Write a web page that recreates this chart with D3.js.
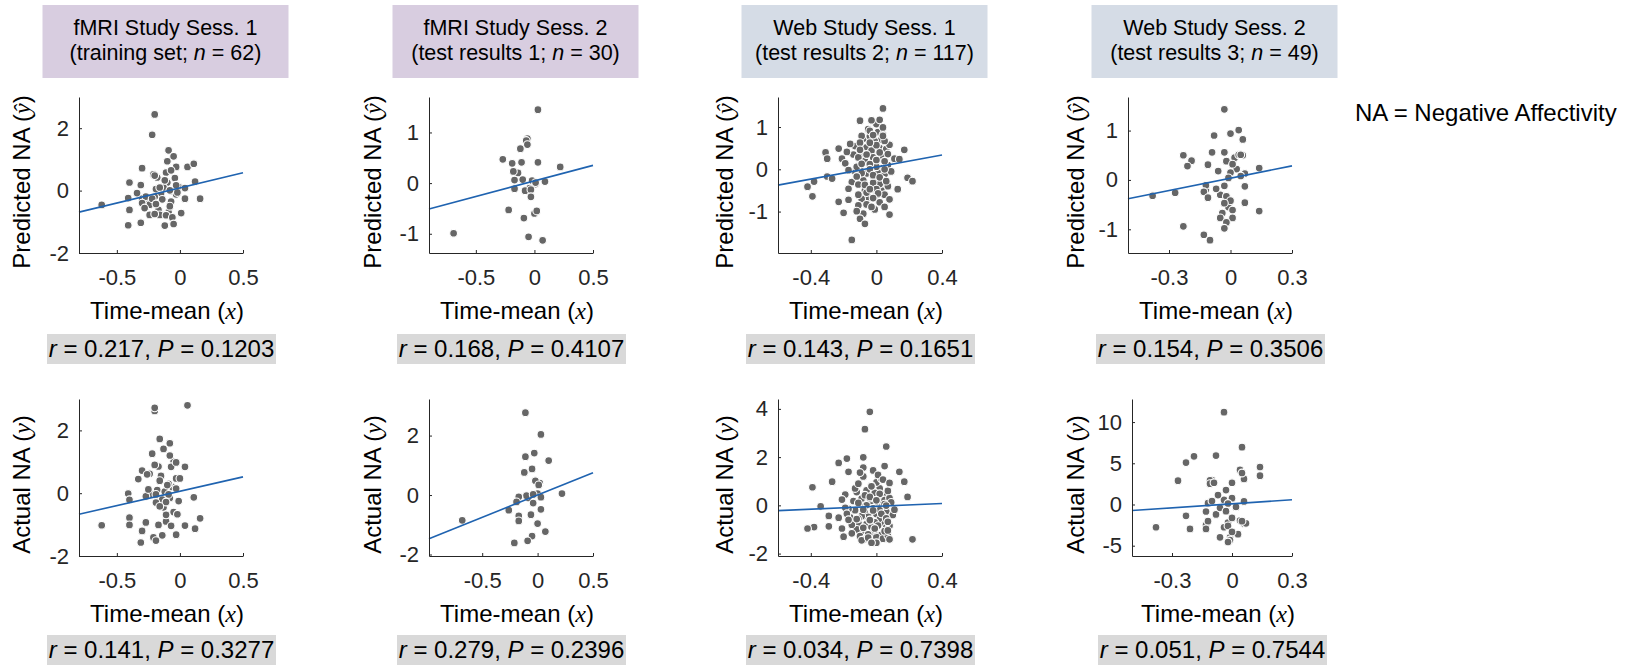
<!DOCTYPE html>
<html>
<head>
<meta charset="utf-8">
<script src="https://cdn.jsdelivr.net/npm/d3@7"></script>
<style>
  body { margin: 0; background: #fff; }
  text { font-family: "Liberation Sans", Arial, Helvetica, sans-serif; }
</style>
</head>
<body>
<script>
// ---- data ----
const studyNames = ["fMRI Study Sess. 1", "fMRI Study Sess. 2", "Web Study Sess. 1", "Web Study Sess. 2"];
const subsetNames = ["training set", "test results 1", "test results 2", "test results 3"];
const sampleN = [62, 30, 117, 49];
const studyKind = ["fmri", "fmri", "web", "web"];

const predR = [0.217, 0.168, 0.143, 0.154];
const predP = [0.1203, 0.4107, 0.1651, 0.3506];
const actR = [0.141, 0.279, 0.034, 0.051];
const actP = [0.3277, 0.2396, 0.7398, 0.7544];

// regression lines [slope, intercept]
const predFit = [[0.973, 0.088], [0.614, 0.043], [0.71, 0.052], [0.835, 0.035]];
const actFit = [[0.915, 0.062], [1.50, 0.0], [0.30, -0.04], [1.63, 0.077]];

// axis limits and ticks
const predXDomain = [[-0.8, 0.5], [-0.9, 0.5], [-0.6, 0.4], [-0.5, 0.3]];
const predYDomain = [[-2, 3], [-1.38, 1.7], [-1.98, 1.71], [-1.48, 1.68]];
const actXDomain = [[-0.8, 0.5], [-0.98, 0.5], [-0.6, 0.4], [-0.5, 0.3]];
const actYDomain = [[-2, 3], [-2.05, 3.23], [-2.1, 4.41], [-6.25, 12.8]];
const xTicks = [[-0.5, 0, 0.5], [-0.5, 0, 0.5], [-0.4, 0, 0.4], [-0.3, 0, 0.3]];
const predYTicks = [[-2, 0, 2], [-1, 0, 1], [-1, 0, 1], [-1, 0, 1]];
const actYTicks = [[-2, 0, 2], [-2, 0, 2], [-2, 0, 2, 4], [-5, 0, 5, 10]];

// [time-mean x, predicted NA]
const fmri1Pred = [
  [-0.21,0.52],[-0.18,0.42],[-0.10,0.26],[-0.15,-0.10],[-0.25,-0.30],[-0.06,-0.02],[-0.17,-0.62],[-0.09,-0.70],
  [-0.27,-0.50],[-0.13,0.10],[-0.04,0.40],[-0.20,-0.20],[-0.01,0.12],[-0.24,-0.45],[-0.07,-0.35],[-0.16,-0.78],
  [-0.11,0.58],[-0.03,-0.12],[-0.19,0.05],[-0.30,-0.25],
  [-0.62,-0.46],[-0.20,2.44],[-0.22,1.79],[-0.09,1.29],[-0.05,1.10],[-0.10,0.94],[-0.30,0.72],[-0.03,0.76],
  [-0.07,0.65],[0.06,0.76],[0.11,0.86],[-0.20,0.48],[-0.12,0.33],[-0.40,0.26],[-0.31,0.18],[-0.03,0.17],
  [-0.16,0.10],[0.04,0.08],[0.12,0.29],[-0.34,-0.08],[-0.27,-0.19],[-0.08,0.01],[-0.02,-0.06],[-0.41,-0.24],
  [-0.22,-0.26],[-0.14,-0.28],[0.04,-0.26],[0.16,-0.26],[-0.30,-0.40],[-0.19,-0.43],[-0.08,-0.50],[-0.40,-0.62],
  [-0.28,-0.56],[0.01,-0.72],[-0.24,-0.78],[-0.20,-0.75],[-0.11,-0.79],[-0.06,-0.86],[-0.31,-1.03],[-0.41,-1.11],
  [-0.12,-1.12],[-0.05,-1.07]
];
const fmri2Pred = [
  [-0.06,0.88],[-0.04,-0.10],[0.00,-0.60],[-0.02,0.05],[-0.14,0.20],[0.01,-0.02],[-0.08,-0.15],
  [-0.69,-0.99],[0.03,1.45],[-0.07,0.84],[-0.06,0.76],[-0.12,0.68],[-0.27,0.47],[-0.19,0.39],[-0.11,0.41],
  [0.03,0.41],[0.22,0.32],[-0.18,0.23],[-0.17,0.06],[-0.10,0.07],[0.01,0.01],[0.09,0.03],[-0.17,-0.11],
  [-0.03,-0.13],[-0.03,-0.27],[-0.22,-0.53],[0.02,-0.55],[-0.09,-0.69],[-0.05,-1.06],[0.07,-1.13]
];
const web1Pred = [
  [-0.05,0.95],[0.01,0.88],[-0.08,0.72],[0.03,0.70],[-0.01,0.66],[-0.06,0.52],[0.02,0.50],[0.06,0.48],
  [-0.03,0.44],[-0.09,0.38],[0.04,0.30],[-0.02,0.28],[-0.07,0.20],[0.07,0.10],[-0.04,0.05],[0.03,0.02],
  [-0.10,0.02],[0.01,-0.06],[-0.06,-0.10],[0.05,-0.12],[-0.13,-0.05],[-0.01,-0.22],[0.04,-0.26],[-0.08,-0.26],
  [0.07,-0.40],[-0.03,-0.42],[0.03,-0.50],[-0.07,-0.50],[0.00,-0.62],[-0.05,-0.66],[0.05,-0.60],[-0.09,-0.70],
  [0.02,-0.78],[-0.11,-0.85],[-0.01,-0.95],[-0.08,-1.05],[0.04,0.82],[-0.04,0.78],[0.08,0.58],[-0.14,0.35],
  [0.09,-0.05],[-0.15,-0.30],
  [-0.13,0.55],[-0.06,0.35],[0.02,0.40],[-0.12,0.06],[0.00,0.06],[-0.11,-0.36],[0.02,-0.35],[0.05,0.67],
  [0.00,1.07],[-0.11,0.28],[-0.02,-0.32],[0.00,-0.47],[-0.06,-0.55],[0.05,-0.89],[-0.04,0.12],
  [0.04,1.44],[-0.10,1.15],[-0.03,1.16],[0.02,1.17],[0.04,0.99],[-0.04,0.91],[-0.09,0.79],[-0.02,0.81],
  [0.04,0.79],[-0.16,0.60],[-0.10,0.63],[0.00,0.57],[-0.04,0.63],[-0.23,0.49],[-0.31,0.40],[-0.18,0.41],
  [-0.10,0.46],[0.07,0.36],[0.17,0.46],[-0.30,0.25],[-0.21,0.25],[-0.19,0.14],[-0.09,0.13],[0.00,0.22],
  [0.05,0.19],[0.11,0.25],[0.14,0.24],[-0.17,-0.02],[-0.04,0.00],[0.05,0.00],[-0.09,-0.09],[-0.12,-0.17],
  [-0.02,-0.14],[-0.30,-0.17],[-0.27,-0.22],[0.02,-0.19],[0.06,-0.28],[0.19,-0.20],[0.22,-0.28],[-0.38,-0.29],
  [-0.42,-0.41],[-0.07,-0.37],[-0.17,-0.46],[0.13,-0.47],[-0.04,-0.47],[0.01,-0.57],[-0.11,-0.60],[-0.39,-0.64],
  [-0.17,-0.72],[-0.02,-0.68],[0.08,-0.71],[-0.23,-0.77],[-0.06,-0.83],[-0.03,-0.89],[-0.12,-0.99],[-0.20,-1.03],
  [0.08,-1.07],[-0.10,-1.17],[-0.07,-1.29],[-0.15,-1.67]
];
const web2Pred = [
  [-0.12,-0.20],[0.02,0.45],[0.03,0.22],[-0.01,-0.55],[0.06,0.50],[-0.05,-0.30],
  [-0.03,1.43],[-0.08,0.90],[0.00,0.94],[0.04,1.01],[0.06,0.82],[-0.09,0.56],[-0.03,0.56],[0.04,0.51],
  [0.05,0.51],[-0.23,0.50],[-0.19,0.39],[-0.21,0.28],[-0.11,0.31],[-0.02,0.38],[0.01,0.32],[0.14,0.24],
  [-0.06,0.18],[0.00,0.15],[0.07,0.13],[-0.01,0.04],[0.05,0.08],[-0.12,-0.11],[-0.07,-0.18],[-0.03,-0.12],
  [0.07,-0.13],[-0.27,-0.26],[-0.38,-0.32],[-0.13,-0.24],[-0.11,-0.36],[-0.02,-0.33],[0.00,-0.42],[-0.03,-0.47],
  [0.07,-0.46],[0.01,-0.61],[-0.04,-0.67],[0.14,-0.63],[-0.05,-0.77],[0.01,-0.77],[-0.02,-0.86],[-0.23,-0.94],
  [-0.03,-0.98],[-0.13,-1.11],[-0.10,-1.22]
];

// [time-mean x, actual NA]
const fmri1Act = [
  [-0.18,0.10],[-0.12,0.05],[-0.06,0.20],[-0.14,-0.20],[-0.05,-0.60],[-0.22,-0.05],[-0.09,0.30],[-0.24,0.62],
  [-0.17,0.85],[-0.20,2.62],[-0.08,-0.15],[-0.03,0.15],[-0.13,-0.45],[-0.27,-0.10],[-0.15,0.55],[-0.11,-0.90],
  [-0.05,1.00],[-0.19,-0.30],[-0.01,-0.25],
  [-0.62,-1.02],[-0.20,2.72],[0.06,2.80],[-0.16,1.73],[-0.08,1.59],[-0.13,1.41],[-0.22,1.26],[-0.08,1.20],
  [-0.20,0.90],[-0.07,0.84],[0.04,0.84],[-0.03,0.98],[-0.30,0.72],[-0.26,0.60],[-0.33,0.45],[-0.16,0.40],
  [-0.03,0.47],[0.00,0.47],[-0.10,0.26],[-0.25,0.12],[-0.41,-0.01],[-0.19,-0.04],[-0.09,-0.04],[0.11,-0.13],
  [-0.40,-0.21],[-0.11,-0.28],[-0.16,-0.42],[-0.11,-0.69],[-0.02,-0.67],[-0.40,-0.78],[0.16,-0.80],[-0.27,-0.93],
  [-0.40,-1.01],[-0.17,-1.01],[-0.07,-1.04],[0.04,-1.03],[0.12,-1.13],[-0.30,-1.20],[-0.14,-1.34],[-0.03,-1.32],
  [-0.21,-1.41],[-0.19,-1.51],[-0.31,-1.57]
];
const fmri2Act = [
  [0.00,0.05],[-0.08,-0.10],[0.02,0.40],
  [-0.68,-0.85],[-0.11,2.77],[0.03,2.04],[-0.11,1.29],[-0.03,1.41],[0.10,1.16],[-0.05,0.88],[-0.12,0.76],
  [-0.02,0.48],[0.01,0.34],[0.22,0.05],[-0.10,-0.02],[-0.04,0.02],[0.03,-0.07],[-0.17,-0.06],[-0.19,-0.23],
  [-0.04,-0.27],[-0.26,-0.51],[0.03,-0.48],[-0.17,-0.70],[-0.06,-0.66],[-0.17,-0.87],[0.00,-0.96],[0.07,-1.23],
  [-0.05,-1.38],[-0.09,-1.54],[-0.21,-1.61]
];
const web1Act = [
  [-0.06,0.62],[0.02,0.70],[-0.12,0.55],[0.04,0.40],[-0.01,0.52],[-0.09,0.28],[0.05,0.22],[-0.03,0.12],
  [0.01,0.05],[-0.14,0.18],[0.08,0.30],[-0.06,0.00],[0.03,-0.08],[-0.10,-0.06],[-0.02,-0.12],[0.06,-0.25],
  [-0.07,-0.30],[0.00,-0.36],[-0.13,-0.20],[0.04,-0.45],[-0.05,-0.48],[0.02,-0.58],[-0.09,-0.45],[-0.01,-0.70],
  [0.05,-0.78],[-0.06,-0.78],[-0.11,-0.72],[0.01,-0.84],[-0.03,-0.90],[0.06,-0.92],[-0.08,-1.05],[-0.02,-1.12],
  [0.03,-1.22],[-0.12,-1.00],[-0.05,-1.20],[0.00,-1.32],[-0.10,-1.28],[0.04,-1.38],[-0.07,-1.40],[0.07,-1.25],
  [-0.15,-0.80],[-0.04,0.30],[0.00,0.95],[-0.08,1.20],[0.03,1.10],[-0.02,1.45],[-0.13,0.70],[0.07,0.60],
  [-0.17,-0.15],[0.10,-0.40],[-0.19,0.45],[0.09,0.12],[-0.11,-0.55],[0.02,-0.20],[-0.04,-0.62],[0.05,0.05],
  [-0.07,0.42],[-0.01,-1.02],[0.08,-0.85],[-0.16,-0.50],[-0.03,0.82],
  [-0.04,3.88],[-0.07,3.16],[0.06,2.44],[-0.18,1.94],[-0.23,1.76],[-0.08,1.99],[-0.08,1.57],[0.05,1.63],
  [-0.17,1.39],[-0.10,1.36],[0.14,1.39],[0.01,1.26],[0.04,1.07],[0.17,0.98],[-0.27,0.98],[-0.39,0.75],
  [-0.11,0.90],[-0.03,0.79],[0.08,0.93],[0.02,0.48],[-0.04,0.35],[0.19,0.35],[-0.21,0.24],[0.00,0.21],
  [-0.11,0.10],[-0.34,-0.04],[0.06,-0.01],[-0.19,-0.10],[-0.08,-0.18],[-0.02,-0.21],[0.11,-0.18],[-0.18,-0.35],
  [0.03,-0.35],[-0.29,-0.44],[-0.23,-0.51],[-0.17,-0.60],[-0.12,-0.57],[-0.04,-0.61],[0.06,-0.54],[0.07,-0.68],
  [-0.29,-0.87],[-0.38,-0.90],[-0.42,-0.96],[-0.21,-0.96],[-0.08,-0.93],[-0.01,-0.96],[0.05,-1.07],[0.07,-1.04],
  [-0.15,-1.16],[-0.20,-1.30],[-0.09,-1.45],[0.00,-1.55],[0.08,-1.41],[0.22,-1.41],[-0.05,-1.34],[-0.03,-1.55]
];
const web2Act = [
  [-0.04,0.55],[0.02,-0.30],[-0.08,-1.20],[0.06,3.10],[-0.10,2.95],[-0.02,-2.20],[0.03,-3.60],[-0.06,-0.40],
  [0.06,-2.30],[-0.13,-2.50],[-0.01,-4.00],
  [-0.04,11.2],[0.05,6.95],[-0.19,5.85],[-0.08,5.93],[-0.23,5.08],[0.14,4.55],[0.04,4.19],[0.14,3.50],
  [0.05,3.82],[-0.27,2.89],[-0.11,2.93],[-0.11,2.52],[-0.09,2.64],[0.00,2.64],[-0.03,1.75],[-0.07,1.14],
  [0.00,0.77],[-0.12,0.16],[-0.02,0.12],[0.06,0.37],[-0.10,0.41],[-0.13,-0.85],[-0.03,-0.81],[-0.23,-1.38],
  [0.00,-1.63],[-0.12,-2.03],[0.04,-1.95],[0.07,-2.28],[-0.38,-2.76],[-0.21,-2.97],[-0.13,-2.97],[-0.04,-2.76],
  [-0.02,-2.60],[0.00,-3.33],[-0.06,-3.98],[-0.01,-4.31],[-0.02,-4.55],[0.05,-2.03]
];

const predPoints = [fmri1Pred, fmri2Pred, web1Pred, web2Pred];
const actPoints = [fmri1Act, fmri2Act, web1Act, web2Act];

// ---- layout ----
const W = 1633, H = 667;
const colLeft = [79, 429, 778, 1128];
const axW = 164;
const yLabelX = [22, 373, 725, 1076];
const boxFill = { fmri: "#d8cde0", web: "#d5dce6" };
const ink = "#262626";
const serif = "'Liberation Serif', 'Times New Roman', serif";
const fmt = d => String(d);

const svg = d3.select("body").append("svg")
  .attr("width", W)
  .attr("height", H);

// one scatter panel
function drawPanel(opts) {
  const { left, width, top, height, pts, fit, xDom, yDom, xt, yt, labelX, yName, r, p, statTop } = opts;
  const x = d3.scaleLinear().domain(xDom).range([left, left + width]);
  const y = d3.scaleLinear().domain(yDom).range([top + height, top]);
  const g = svg.append("g");

  // dots
  g.append("g").selectAll("circle")
    .data(pts)
    .enter().append("circle")
    .attr("cx", d => x(d[0]))
    .attr("cy", d => y(d[1]))
    .attr("r", 3.9)
    .attr("fill", "#666666")
    .attr("stroke", "#ffffff")
    .attr("stroke-width", 1.1);

  // fit line over the full x range
  g.append("line")
    .attr("x1", x(xDom[0])).attr("y1", y(fit[0] * xDom[0] + fit[1]))
    .attr("x2", x(xDom[1])).attr("y2", y(fit[0] * xDom[1] + fit[1]))
    .attr("stroke", "#1f63b0")
    .attr("stroke-width", 1.6);

  // axes (ticks point inward like matlab)
  const xAxis = g.append("g")
    .attr("transform", `translate(0,${top + height})`)
    .call(d3.axisBottom(x).tickValues(xt).tickFormat(fmt).tickSizeInner(-3).tickSizeOuter(0).tickPadding(16));
  const yAxis = g.append("g")
    .attr("transform", `translate(${left},0)`)
    .call(d3.axisLeft(y).tickValues(yt).tickFormat(fmt).tickSizeInner(-3).tickSizeOuter(0).tickPadding(10));
  [xAxis, yAxis].forEach(a => {
    a.attr("font-family", null).attr("font-size", null);
    a.selectAll("path, line").attr("stroke", ink).attr("stroke-width", 1);
    a.selectAll("text").attr("fill", ink).style("font-size", "22px");
  });

  // x label
  const cx = left + width / 2;
  const xl = g.append("text")
    .attr("x", cx + 6)
    .attr("y", top + height + 66)
    .attr("text-anchor", "middle")
    .attr("fill", "#000")
    .style("font-size", "24px");
  xl.append("tspan").text("Time-mean (");
  xl.append("tspan").style("font-family", serif).attr("font-style", "italic").text("x");
  xl.append("tspan").text(")");

  // y label
  const yl = g.append("text")
    .attr("transform", `translate(${labelX},${top + height / 2 + 7}) rotate(-90)`)
    .attr("dy", "0.35em")
    .attr("text-anchor", "middle")
    .attr("fill", "#000")
    .style("font-size", "24px");
  yl.append("tspan").text(yName + " (");
  yl.append("tspan").style("font-family", serif).attr("font-style", "italic")
    .text(yName === "Predicted NA" ? "\u0177" : "y");
  yl.append("tspan").text(")");

  // stats box
  const sw = 229;
  g.append("rect")
    .attr("x", cx + 0.5 - sw / 2).attr("y", statTop)
    .attr("width", sw).attr("height", 30)
    .attr("fill", "#d9d9d9");
  const st = g.append("text")
    .attr("x", cx + 0.5)
    .attr("y", statTop + 23)
    .attr("text-anchor", "middle")
    .attr("fill", "#000")
    .style("font-size", "24px");
  st.append("tspan").attr("font-style", "italic").text("r");
  st.append("tspan").text(" = " + d3.format(".3f")(r) + ", ");
  st.append("tspan").attr("font-style", "italic").text("P");
  st.append("tspan").text(" = " + d3.format(".4f")(p));
}

studyNames.forEach((name, i) => {
  const cx = colLeft[i] + axW / 2;

  // title box
  svg.append("rect")
    .attr("x", cx + 4.5 - 123).attr("y", 5)
    .attr("width", 246).attr("height", 73)
    .attr("fill", boxFill[studyKind[i]]);
  svg.append("text")
    .attr("x", cx + 4.5).attr("y", 35)
    .attr("text-anchor", "middle")
    .style("font-size", "21.5px")
    .text(name);
  const t2 = svg.append("text")
    .attr("x", cx + 4.5).attr("y", 60)
    .attr("text-anchor", "middle")
    .style("font-size", "21.5px");
  t2.append("tspan").text(`(${subsetNames[i]}; `);
  t2.append("tspan").attr("font-style", "italic").text("n");
  t2.append("tspan").text(` = ${sampleN[i]})`);

  drawPanel({
    left: colLeft[i], width: axW, top: 97, height: 156,
    pts: predPoints[i], fit: predFit[i], xDom: predXDomain[i], yDom: predYDomain[i],
    xt: xTicks[i], yt: predYTicks[i], labelX: yLabelX[i], yName: "Predicted NA",
    r: predR[i], p: predP[i], statTop: 334
  });

  // last column's lower axes sit a little to the right
  const bLeft = i === 3 ? colLeft[i] + 4 : colLeft[i];
  drawPanel({
    left: bLeft, width: axW - (bLeft - colLeft[i]), top: 399, height: 157,
    pts: actPoints[i], fit: actFit[i], xDom: actXDomain[i], yDom: actYDomain[i],
    xt: xTicks[i], yt: actYTicks[i], labelX: yLabelX[i], yName: "Actual NA",
    r: actR[i], p: actP[i], statTop: 635
  });
});

svg.append("text")
  .attr("x", 1355).attr("y", 121)
  .style("font-size", "24px")
  .text("NA = Negative Affectivity");
</script>
</body>
</html>
